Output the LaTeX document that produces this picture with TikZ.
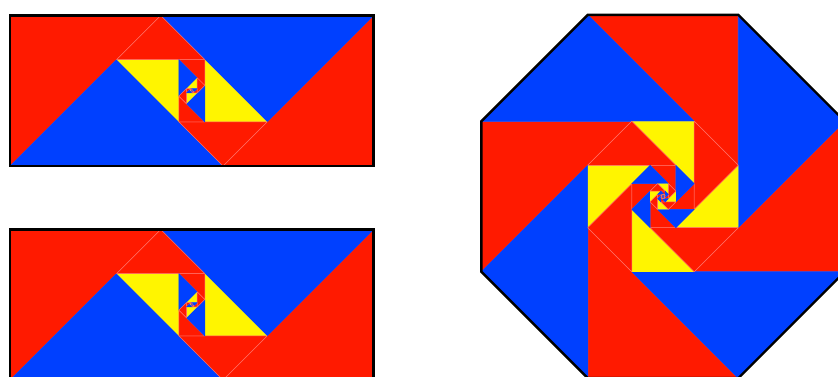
\documentclass[tikz,border=0pt]{standalone}
\definecolor{myred}{RGB}{255,26,0}
\definecolor{myblue}{RGB}{0,64,255}
\definecolor{myyellow}{RGB}{255,245,0}
\definecolor{seam}{RGB}{255,110,100}
\tikzset{
  redp/.style={fill=myred,draw=seam,line width=0.3pt,line join=round},
  blup/.style={fill=myblue,draw=myblue,line width=0.3pt,line join=round},
  yelp/.style={fill=myyellow},
  outline/.style={draw=black,line width=1.35pt,line join=miter}
}
\newcommand\silvrect[2]{%
  \ifodd#2\relax
    \path[yelp] (1,1)--(2.41421,1)--(1.70711,0.29289)--cycle;
    \path[yelp] (1.41421,0)--(0,0)--(0.70711,0.70711)--cycle;
    \path[redp] (0,0)--(0,1)--(1,1)--cycle;
    \path[redp] (2.41421,1)--(2.41421,0)--(1.41421,0)--cycle;
  \else
    \path[redp] (0,0)--(0,1)--(1,1)--cycle;
    \path[redp] (2.41421,1)--(2.41421,0)--(1.41421,0)--cycle;
    \path[blup] (1,1)--(2.41421,1)--(1.70711,0.29289)--cycle;
    \path[blup] (1.41421,0)--(0,0)--(0.70711,0.70711)--cycle;
  \fi
  \ifnum#1>0
    \begin{scope}[shift={(0.70711,0.70711)},rotate=-45,scale=0.41421]
      \edef\nxtrect{\noexpand\silvrect{\the\numexpr#1-1\relax}{\the\numexpr#2+1\relax}}\nxtrect
    \end{scope}
  \fi}
\newcommand\octlevel[2]{%
  \ifodd#2\relax
    \foreach \r in {0,-90,-180,-270}{\path[yelp,rotate=\r] (-0.5,1.20711)--(0.5,1.20711)--(0.5,0.20711)--cycle;}
    \foreach \r in {0,-90,-180,-270}{\path[redp,rotate=\r] (-0.5,1.20711)--(-1.20711,0.5)--(0.20711,0.5)--cycle;}
  \else
    \foreach \r in {0,-90,-180,-270}{\path[redp,rotate=\r] (-0.5,1.20711)--(0.5,1.20711)--(0.5,0.20711)--cycle;}
    \foreach \r in {0,-90,-180,-270}{\path[blup,rotate=\r] (-0.5,1.20711)--(-1.20711,0.5)--(0.20711,0.5)--cycle;}
  \fi
  \ifnum#1>0
    \begin{scope}[scale=0.41421]
      \edef\nxtoct{\noexpand\octlevel{\the\numexpr#1-1\relax}{\the\numexpr#2+1\relax}}\nxtoct
    \end{scope}
  \fi}
\begin{document}
\begin{tikzpicture}[x=0.02cm,y=0.02cm]
\useasboundingbox (0,0) rectangle (838,376);
\clip (0,0) rectangle (838,376);
\begin{scope}[shift={(10.2,210)},scale=150.5]
  \silvrect{8}{0}
  \path[outline] (0,0) rectangle (2.41421,1);
\end{scope}
\begin{scope}[shift={(10.2,-4)},scale=150.5]
  \silvrect{8}{0}
  \path[outline] (0,0) rectangle (2.41421,1);
\end{scope}
\begin{scope}[shift={(663,179.5)},scale=150.5]
  \octlevel{8}{0}
  \path[outline] (-0.5,1.20711)--(0.5,1.20711)--(1.20711,0.5)--(1.20711,-0.5)--(0.5,-1.20711)--(-0.5,-1.20711)--(-1.20711,-0.5)--(-1.20711,0.5)--cycle;
\end{scope}
\end{tikzpicture}
\end{document}
